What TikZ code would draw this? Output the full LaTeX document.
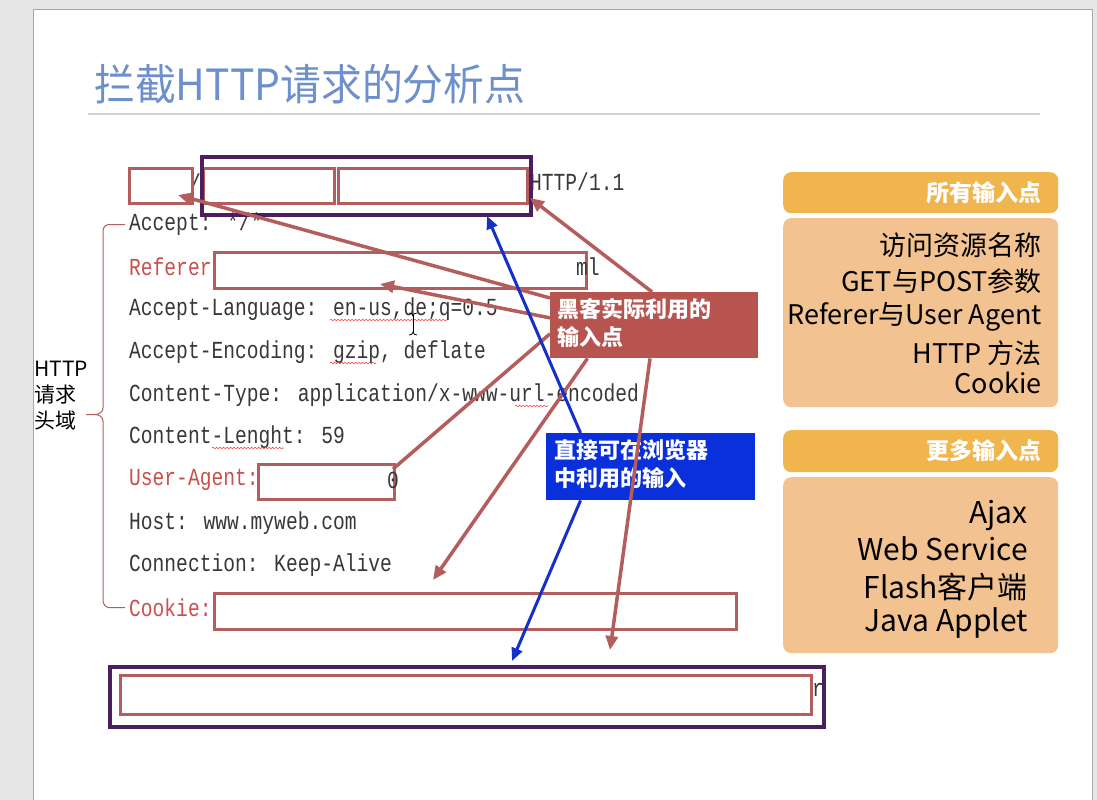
\documentclass[tikz,border=0pt]{standalone}
\usepackage{fontspec}
\setmainfont{Noto Sans CJK SC}
\newfontfamily\cjk{Noto Sans CJK SC}
\newfontfamily\titlefont[FakeStretch=0.95]{Noto Sans CJK SC}
\newfontfamily\codefont[FakeStretch=0.80]{Liberation Mono}
\usetikzlibrary{arrows.meta,calc,decorations.pathmorphing}
\definecolor{rb}{HTML}{B35E5C}
\definecolor{rtext}{HTML}{C9504D}
\definecolor{hkfill}{HTML}{B8544F}
\definecolor{pu}{HTML}{4B1E5E}
\definecolor{blfill}{HTML}{0A30DC}
\definecolor{blline}{HTML}{1530C8}
\definecolor{ttl}{HTML}{6D8FCB}
\definecolor{hdr}{HTML}{F0B54C}
\definecolor{bdy}{HTML}{F2C291}
\definecolor{bgray}{HTML}{E6E6E6}
\begin{document}
\begin{tikzpicture}[x=1pt,y=-1pt,
  rbox/.style={draw=rb, line width=3pt, fill=white, inner sep=0pt, anchor=north west},
  pbox/.style={draw=pu, line width=3.5pt, inner sep=0pt, anchor=north west},
  codeline/.style={font=\codefont\fontsize{24.5}{28}\selectfont, text=black!78, anchor=west, inner sep=0pt},
  redline/.style={codeline, text=rtext},
  rarrow/.style={draw=rb, line width=3.5pt, -{Triangle[length=14pt,width=12pt]}},
  rplain/.style={draw=rb, line width=3.5pt},
  barrow/.style={draw=blline, line width=3pt, -{Triangle[length=13pt,width=11pt]}},
  panel/.style={rounded corners=8pt, inner sep=0pt, anchor=north west, minimum width=275pt},
  hdrtext/.style={font=\cjk\bfseries\fontsize{23}{26}\selectfont, text=white, anchor=east, inner sep=0pt},
  ptext/.style={font=\cjk\fontsize{27}{30}\selectfont, text=black, anchor=east, inner sep=0pt},
  ptextb/.style={font=\cjk\fontsize{30}{33}\selectfont, text=black, anchor=east, inner sep=0pt},
  squig/.style={draw=red!75, line width=0.6pt, decorate, decoration={snake, amplitude=0.8pt, segment length=3.5pt}}
]
\useasboundingbox (0,0) rectangle (1097,800);
% page
\fill[bgray] (0,0) rectangle (1097,800);
\fill[white] (33,10) rectangle (1092,800);
\draw[gray!70, line width=1pt] (33,800) -- (33,10) -- (1092,10) -- (1092,800);

% title
\node[font=\titlefont\fontsize{43}{48}\selectfont, text=ttl, anchor=west, inner sep=0pt] (title) at (94,84) {拦截HTTP请求的分析点};
\draw[gray!35, line width=1.5pt] (88,114) -- (1040,114);

% code lines
\node[codeline] (slash) at (189,183) {/};
\node[codeline] (http) at (530,182) {HTTP/1.1};
\node[codeline] (l1) at (129,224) {Accept: */*};
\node[redline] (l2) at (129,266.7) {Referer};
\node[codeline] (l3) at (129,309.3) {Accept-Language: en-us,de;q=0.5};
\node[codeline] (l4) at (129,352) {Accept-Encoding: gzip, deflate};
\node[codeline] (l5) at (129,394.7) {Content-Type: application/x-www-url-encoded};
\node[codeline] (l6) at (129,437.3) {Content-Lenght: 59};
\node[redline] (l7) at (129,480) {User-Agent:};
\node[codeline] (l8) at (129,522.7) {Host: www.myweb.com};
\node[codeline] (l9) at (129,565.3) {Connection: Keep-Alive};
\node[redline] (l10) at (129,608) {Cookie:};

% spell-check squiggles
\draw[squig] (330,320) -- (447,320);
\draw[squig] (330,363) -- (376,363);
\draw[squig] (515,406) -- (548,406);
\draw[squig] (212,448) -- (284,448);
\draw[squig] (885,258) -- (1040,258);
\draw[squig] (845,294) -- (1040,294);
\draw[squig] (868,600) -- (1030,600);

% request line boxes
\node[rbox, minimum width=63pt, minimum height=35pt] (method) at (128,167) {};
\node[rbox, minimum width=131pt, minimum height=35pt] (path) at (202,167) {};
\node[rbox, minimum width=189pt, minimum height=35pt] (query) at (337,167) {};
\node[pbox, minimum width=329pt, minimum height=58pt] (reqline) at (200,155) {};

% header boxes
\node[rbox, minimum width=372pt, minimum height=36pt] (referer) at (213,251) {};
\node[codeline] (ml) at (576,266.7) {ml};
\node[rbox, minimum width=136pt, minimum height=35pt] (ua) at (257,463) {};
\node[codeline] (zero) at (387,480) {0};
\node[rbox, minimum width=522pt, minimum height=36pt] (cookie) at (213,592) {};

% body box
\node[pbox, minimum width=714pt, minimum height=60pt] (bodyout) at (108,665) {};
\node[rbox, minimum width=691pt, minimum height=39pt] (bodyin) at (119,674) {};
\node[codeline] (rch) at (812,690) {r};

% bracket and label
\draw[rb, line width=1pt] (125,224.5) -- (109,224.5) to[out=180,in=90] (103,231) -- (103,408)
  to[out=270,in=0] (95,414.5) -- (86,414.5);
\draw[rb, line width=1pt] (95,414.5) to[out=0,in=90] (103,421) -- (103,600)
  to[out=270,in=180] (109,607.5) -- (125,607.5);
\node[font=\cjk\fontsize{21}{26}\selectfont, align=left, anchor=north west, inner sep=0pt] (hdrlabel) at (34,361) {HTTP\\请求\\头域};

% cursor
\draw[black, line width=1pt] (413,315) -- (413,333);
\draw[black, line width=0.8pt] (409,313) to[out=0,in=90] (413,316) to[out=90,in=180] (417,313);
\draw[black, line width=0.8pt] (409,335) to[out=0,in=270] (413,332) to[out=270,in=180] (417,335);

% callout boxes
\node[fill=hkfill, minimum width=208pt, minimum height=66pt, anchor=north west, inner sep=0pt] (hack) at (550,292) {};
\node[font=\cjk\bfseries\fontsize{22}{28}\selectfont, text=white, align=left, anchor=north west, inner sep=0pt] (hacktext) at (557,298) {黑客实际利用的\\输入点};
\node[fill=blfill, minimum width=209pt, minimum height=67pt, anchor=north west, inner sep=0pt] (blue) at (546,433) {};
\node[font=\cjk\bfseries\fontsize{22}{28}\selectfont, text=white, align=left, anchor=north west, inner sep=0pt] (bluetext) at (554,439) {直接可在浏览器\\中利用的输入};

% right panels
\node[panel, fill=hdr, minimum height=41pt] (h1) at (783,172) {};
\node[hdrtext] (h1t) at (1042,193) {所有输入点};
\node[panel, fill=bdy, minimum height=189pt] (b1) at (783,218) {};
\node[ptext] (b1a) at (1042,245) {访问资源名称};
\node[ptext] (b1b) at (1042,281) {GET与POST参数};
\node[ptext] (b1c) at (1042,317) {Referer与User Agent};
\node[ptext] (b1d) at (1042,353) {HTTP 方法};
\node[ptext] (b1e) at (1042,383) {Cookie};
\node[panel, fill=hdr, minimum height=42pt] (h2) at (783,430) {};
\node[hdrtext] (h2t) at (1042,451) {更多输入点};
\node[panel, fill=bdy, minimum height=176pt] (b2) at (783,477) {};
\node[ptextb] (b2a) at (1028,515) {Ajax};
\node[ptextb] (b2b) at (1028,549) {Web Service};
\node[ptextb] (b2c) at (1028,587) {Flash客户端};
\node[ptextb] (b2d) at (1028,623) {Java Applet};

% arrow tips
\coordinate (tMethod) at (178,195);
\coordinate (tReferer) at (380,284);
\coordinate (tUA) at (393,469);
\coordinate (tConn) at (433,580);
\coordinate (tBody) at (610,650);
\coordinate (tHttp) at (530,198);
\coordinate (tReqB) at (487,216);
\coordinate (tBodyB) at (512,661);

% red arrows
\draw[rarrow] ($(hack.north west)!0.09!(hack.south west)$) -- (tMethod);
\draw[rarrow] ($(hack.north west)!0.39!(hack.south west)$) -- (tReferer);
\draw[rplain] ($(hack.north west)!0.63!(hack.south west)$) -- (tUA);
\draw[rarrow] ($(hack.south west)!0.18!(hack.south east)$) -- (tConn);
\draw[rarrow] ($(hack.south west)!0.48!(hack.south east)$) -- (tBody);
\draw[rarrow] ($(hack.north west)!0.49!(hack.north east)$) -- (tHttp);
% blue arrows
\draw[barrow] ($(blue.north west)!0.165!(blue.north east)$) -- (tReqB);
\draw[barrow] ($(blue.south west)!0.165!(blue.south east)$) -- (tBodyB);
\end{tikzpicture}
\end{document}
